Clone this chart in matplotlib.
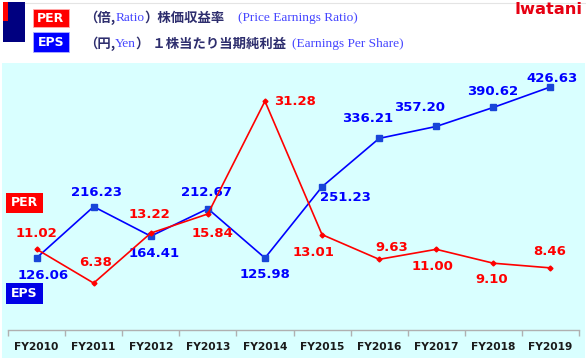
import matplotlib
matplotlib.use("Agg")
import matplotlib.pyplot as plt
from matplotlib.patches import Rectangle
from matplotlib.lines import Line2D

W, H = 586, 361
DPI = 100

years = ["FY2010", "FY2011", "FY2012", "FY2013", "FY2014",
         "FY2015", "FY2016", "FY2017", "FY2018", "FY2019"]
eps = [126.06, 216.23, 164.41, 212.67, 125.98, 251.23, 336.21, 357.20, 390.62, 426.63]
per = [11.02, 6.38, 13.22, 15.84, 31.28, 13.01, 9.63, 11.00, 9.10, 8.46]

eps_off = [(7, -18), (3, 14), (3, -17), (-1, 16), (0, -16),
           (23, -11), (-12, 20), (-17, 19), (-1, 16), (2, 8)]
per_off = [(0, 16), (2, 21), (-1, 19), (5, -20), (30, 0),
           (-9, -18), (13, 12), (-4, -17), (-2, -16), (-1, 16)]

BLUE = "#0000ff"
MBLUE = "#1845d8"
RED = "#ff0000"
NAVY = "#2e2e6e"
SERIF_BLUE = "#4545ff"

fig = plt.figure(figsize=(W / DPI, H / DPI), dpi=DPI)
fig.patch.set_facecolor("white")

def px(x, y):
    return x / W, 1 - y / H

def rect_px(x0, y0, x1, y1, **kw):
    fig.add_artist(Rectangle((x0 / W, 1 - y1 / H), (x1 - x0) / W, (y1 - y0) / H,
                             transform=fig.transFigure, **kw))

# chart background
rect_px(2, 63, 585, 358, facecolor="#d9ffff", edgecolor="none", zorder=0)
# top-left block
rect_px(3, 2, 25, 42, facecolor="#000080", edgecolor="none")
rect_px(3, 2, 8, 21, facecolor=RED, edgecolor="none")
fig.add_artist(Line2D([25 / W, 1], [1 - 2.5 / H, 1 - 2.5 / H], color="#e4e4e4", lw=0.8,
                      transform=fig.transFigure))

# header badges
rect_px(33, 9, 69, 27, facecolor=RED, edgecolor="#ffb0b0", lw=0.6)
rect_px(33, 32, 69, 52, facecolor=BLUE, edgecolor="#b0b0ff", lw=0.6)
fig.text(*px(51, 18.5), "PER", color="white", fontsize=9, fontweight="bold",
         ha="center", va="center", family="DejaVu Sans")
fig.text(*px(51, 42.5), "EPS", color="white", fontsize=9, fontweight="bold",
         ha="center", va="center", family="DejaVu Sans")

renderer = fig.canvas.get_renderer()

def seq_text(x, y, pieces):
    for s, kw in pieces:
        t = fig.text(*px(x, y), s, va="center", ha="left", **kw)
        bb = t.get_window_extent(renderer=renderer)
        x += bb.width

CJK = dict(family=["Noto Sans CJK JP", "DejaVu Sans"], fontweight="bold", fontsize=9.6, color=NAVY)
SER = dict(family="Liberation Serif", fontsize=9.6, color=SERIF_BLUE)

seq_text(84, 18, [("（倍,", CJK), ("Ratio", SER), ("）株価収益率", CJK)])
seq_text(84, 44, [("（円,", CJK), ("Yen", SER), ("） １株当たり当期純利益", CJK)])
fig.text(*px(238, 18), "(Price Earnings Ratio)", va="center", ha="left", **SER)
fig.text(*px(292, 44), "(Earnings Per Share)", va="center", ha="left", **SER)

# logo
fig.text(*px(583, 9), "Iwatani", color="#e60012", fontsize=11.7, fontweight="bold",
         ha="right", va="center", family="DejaVu Sans")

# axes
ax_left, ax_right = 8, 579
ax_top, ax_bot = 63, 329.7
ax = fig.add_axes([ax_left / W, 1 - ax_bot / H, (ax_right - ax_left) / W, (ax_bot - ax_top) / H])
ax.set_facecolor("none")
ax2 = ax.twinx()
ax2.set_facecolor("none")

x = list(range(len(years)))
ax.set_xlim(-0.5, len(years) - 0.5)
ax.set_ylim(0, 468.7)
ax2.set_ylim(0, 36.5)

ax.plot(x, eps, color=BLUE, lw=1.2, marker="s", ms=4, mfc=MBLUE, mec=MBLUE, zorder=3)
ax2.plot(x, per, color=RED, lw=1.2, marker="D", ms=2.5, mfc=RED, mec=RED, zorder=4)

for i, v in enumerate(eps):
    ax.annotate(f"{v:.2f}", (i, v), xytext=eps_off[i], textcoords="offset pixels",
                ha="center", va="center", color=BLUE, fontsize=9.5, fontweight="bold",
                family="DejaVu Sans", annotation_clip=False)
for i, v in enumerate(per):
    ax2.annotate(f"{v:.2f}", (i, v), xytext=per_off[i], textcoords="offset pixels",
                 ha="center", va="center", color=RED, fontsize=9.5, fontweight="bold",
                 family="DejaVu Sans", annotation_clip=False)

for a in (ax, ax2):
    for s in ("top", "left", "right"):
        a.spines[s].set_visible(False)
    a.set_yticks([])
ax2.spines["bottom"].set_visible(False)
ax2.set_xticks([])
ax.spines["bottom"].set_color("#b0b0b0")
ax.spines["bottom"].set_linewidth(1.0)
ax.set_xticks([i - 0.5 for i in range(len(years) + 1)], minor=False)
ax.set_xticklabels([])
ax.tick_params(axis="x", which="major", length=4, color="#b0b0b0", width=1.0)
ax.set_xticks(x, minor=True)
ax.set_xticklabels(years, minor=True)
ax.tick_params(axis="x", which="minor", length=0, pad=9, labelsize=7.7, labelcolor="#1a1a1a")
for lab in ax.get_xticklabels(minor=True):
    lab.set_fontweight("bold")

# side badges
rect_px(6, 193, 43, 213, facecolor=RED, edgecolor="none")
rect_px(6, 283, 43, 304, facecolor="#0000e6", edgecolor="none")
fig.text(*px(24.5, 203), "PER", color="white", fontsize=9, fontweight="bold",
         ha="center", va="center", family="DejaVu Sans")
fig.text(*px(24.5, 293.5), "EPS", color="white", fontsize=9, fontweight="bold",
         ha="center", va="center", family="DejaVu Sans")

fig.savefig("out.png", dpi=DPI, facecolor="white")
